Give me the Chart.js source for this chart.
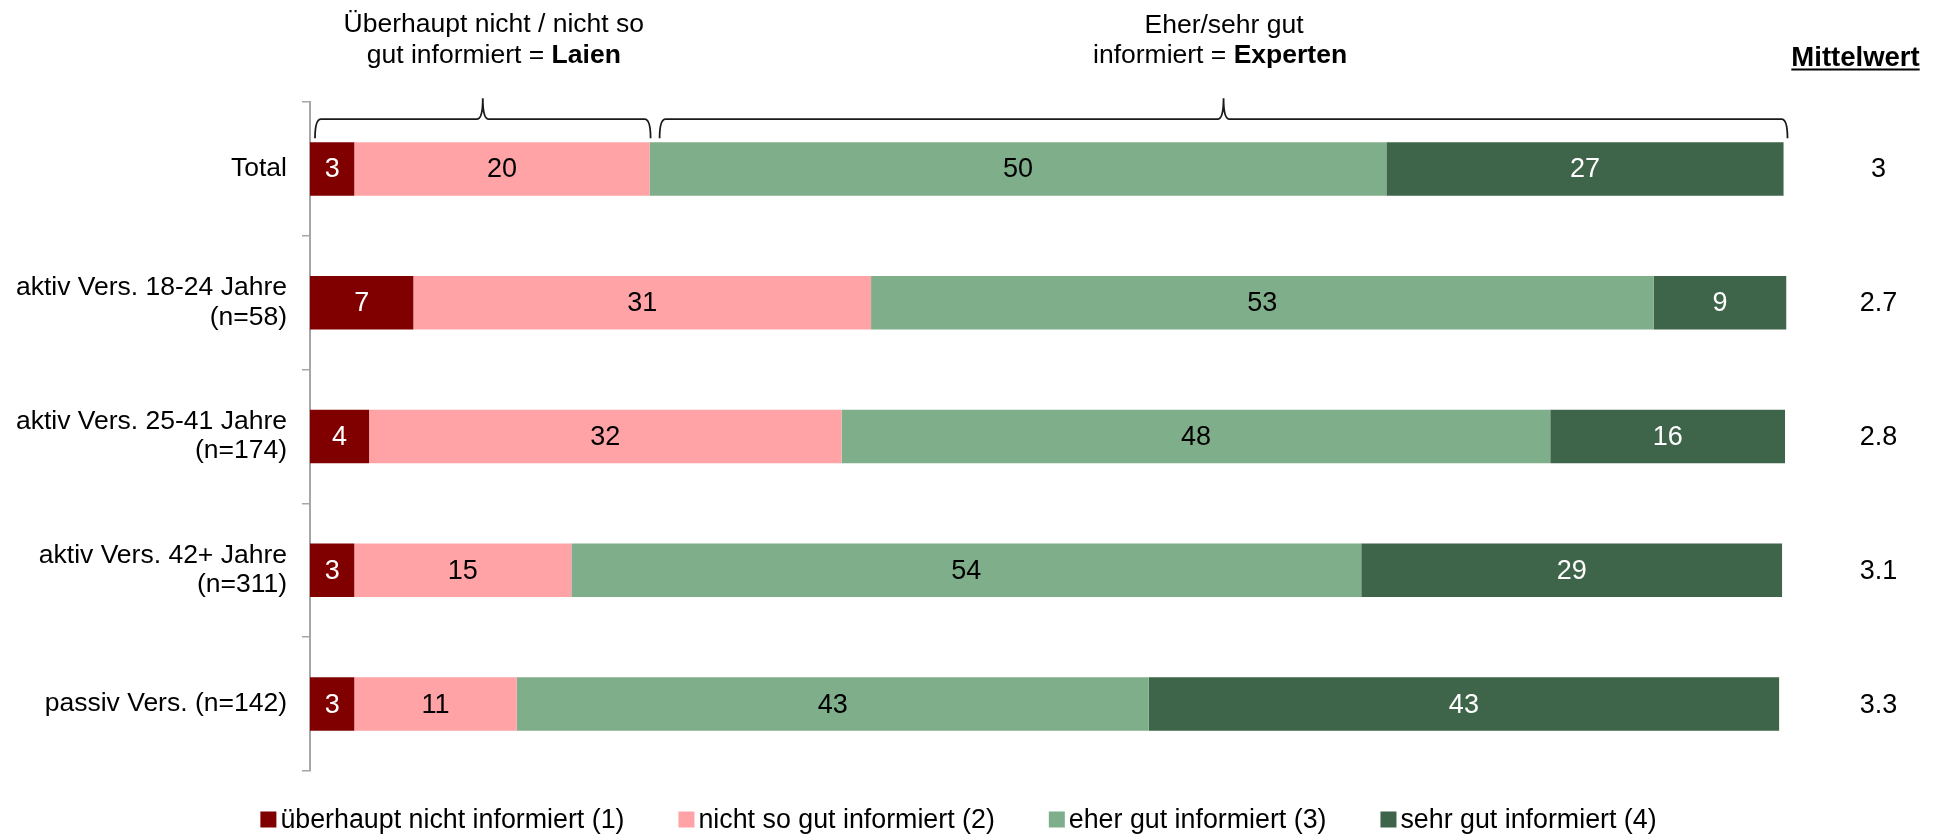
<!DOCTYPE html>
<html>
<head>
<meta charset="utf-8">
<script src="https://cdn.jsdelivr.net/npm/chart.js@4.4.1/dist/chart.umd.min.js"></script>
<style>
  html, body { margin: 0; padding: 0; background: #fff; }
  canvas { display: block; }
</style>
</head>
<body>
<canvas id="chart" width="1937" height="838"></canvas>
<script>
const categories = [
  'Total',
  ['aktiv Vers. 18-24 Jahre', '(n=58)'],
  ['aktiv Vers. 25-41 Jahre', '(n=174)'],
  ['aktiv Vers. 42+ Jahre', '(n=311)'],
  'passiv Vers. (n=142)',
];
const seriesNames = [
  'überhaupt nicht informiert (1)',
  'nicht so gut informiert (2)',
  'eher gut informiert (3)',
  'sehr gut informiert (4)',
];
const ueberhauptNicht = [3, 7, 4, 3, 3];
const nichtSoGut = [20, 31, 32, 14.7, 11];
const eherGut = [49.9, 53, 48, 53.5, 42.8];
const sehrGut = [26.9, 9, 15.9, 28.5, 42.7];
const mittelwerte = [3, 2.7, 2.8, 3.1, 3.3];

const seriesColors = ['#800000', '#FFA3A6', '#7FAE8A', '#3E644A'];
const labelColors = ['#FFFFFF', '#000000', '#000000', '#FFFFFF'];

const FONT = "'Liberation Sans', Arial, sans-serif";
const font = (size, bold) => (bold ? 'bold ' : '') + size + 'px ' + FONT;

const drawBrace = (ctx, x1, x2, yTip, yLine, yEnd) => {
  const mid = (x1 + x2) / 2;
  const r = 6;
  ctx.beginPath();
  ctx.moveTo(x1, yEnd);
  ctx.quadraticCurveTo(x1, yLine, x1 + r, yLine);
  ctx.lineTo(mid - r, yLine);
  ctx.quadraticCurveTo(mid, yLine, mid, yTip);
  ctx.quadraticCurveTo(mid, yLine, mid + r, yLine);
  ctx.lineTo(x2 - r, yLine);
  ctx.quadraticCurveTo(x2, yLine, x2, yEnd);
  ctx.stroke();
};

const drawMixed = (ctx, parts, cx, y, size) => {
  let total = 0;
  parts.forEach((p) => {
    ctx.font = font(size, p.bold);
    p.w = ctx.measureText(p.text).width;
    total += p.w;
  });
  let x = cx - total / 2;
  ctx.textAlign = 'left';
  parts.forEach((p) => {
    ctx.font = font(size, p.bold);
    ctx.fillText(p.text, x, y);
    x += p.w;
  });
};

const overlay = {
  id: 'overlay',
  afterDatasetsDraw(chart) {
    const { ctx } = chart;
    ctx.save();
    ctx.font = font(27);
    ctx.textAlign = 'center';
    ctx.textBaseline = 'middle';
    chart.data.datasets.forEach((ds, di) => {
      const meta = chart.getDatasetMeta(di);
      meta.data.forEach((bar, i) => {
        const { x, base, y } = bar.getProps(['x', 'base', 'y'], true);
        ctx.fillStyle = labelColors[di];
        ctx.fillText(String(Math.round(ds.data[i])), (x + base) / 2, y + 1);
      });
    });
    ctx.restore();
  },
  afterDraw(chart) {
    const { ctx, chartArea } = chart;
    const xs = chart.scales.x;
    const first = chart.getDatasetMeta(0).data[0];
    const barTop = first.y - first.height / 2;

    // braces over the Total bar
    const laienEnd = ueberhauptNicht[0] + nichtSoGut[0];
    const x0 = xs.getPixelForValue(0);
    const xm = xs.getPixelForValue(laienEnd);
    const x100 = xs.getPixelForValue(100);
    ctx.save();
    ctx.strokeStyle = '#1a1a1a';
    ctx.lineWidth = 1.8;
    drawBrace(ctx, x0 + 5, xm + 1, barTop - 44, barTop - 23, barTop - 4);
    drawBrace(ctx, xm + 10, x100 + 1, barTop - 44, barTop - 23, barTop - 4);

    ctx.fillStyle = '#000';
    ctx.textBaseline = 'alphabetic';
    const laienX = (x0 + xm) / 2 + 14;
    const expX = (xm + x100) / 2 + 2;
    ctx.font = font(26.5);
    ctx.textAlign = 'center';
    ctx.fillText('Überhaupt nicht / nicht so', laienX, 32);
    drawMixed(ctx, [{ text: 'gut informiert = ' }, { text: 'Laien', bold: true }], laienX, 63, 26.5);
    ctx.font = font(26.5);
    ctx.textAlign = 'center';
    ctx.fillText('Eher/sehr gut', expX + 4, 33);
    drawMixed(ctx, [{ text: 'informiert = ' }, { text: 'Experten', bold: true }], expX, 63, 26.5);

    // Mittelwert column
    const headX = chartArea.right + 69;
    ctx.font = font(27.5, true);
    ctx.textAlign = 'center';
    ctx.fillText('Mittelwert', headX, 66);
    const hw = ctx.measureText('Mittelwert').width;
    ctx.fillRect(headX - hw / 2, 68.5, hw, 2);

    ctx.font = font(27);
    ctx.textBaseline = 'middle';
    chart.getDatasetMeta(0).data.forEach((bar, i) => {
      ctx.fillText(String(mittelwerte[i]), chartArea.right + 92, bar.y + 1);
    });

    // legend
    const box = 16;
    const boxGap = 4;
    const itemGap = 54;
    ctx.font = font(26.8);
    const widths = seriesNames.map((n) => ctx.measureText(n).width);
    const totalW = widths.reduce((a, w) => a + w + box + boxGap, 0) + itemGap * (seriesNames.length - 1);
    let lx = chart.width / 2 - totalW / 2 - 10;
    const ly = 819.5;
    ctx.textAlign = 'left';
    seriesNames.forEach((name, i) => {
      ctx.fillStyle = seriesColors[i];
      ctx.fillRect(lx, ly - box / 2, box, box);
      ctx.fillStyle = '#000';
      ctx.fillText(name, lx + box + boxGap, ly + 1);
      lx += box + boxGap + widths[i] + itemGap;
    });
    ctx.restore();
  },
};

const seriesData = [ueberhauptNicht, nichtSoGut, eherGut, sehrGut];

new Chart(document.getElementById('chart'), {
  type: 'bar',
  data: {
    labels: categories,
    datasets: seriesData.map((values, i) => ({
      label: seriesNames[i],
      data: values,
      backgroundColor: seriesColors[i],
      borderWidth: 0,
      barPercentage: 0.4,
      categoryPercentage: 1.0,
    })),
  },
  options: {
    indexAxis: 'y',
    responsive: false,
    animation: false,
    layout: { padding: { top: 102, bottom: 67, left: 0, right: 150.5 } },
    scales: {
      x: { display: false, stacked: true, min: 0, max: 100 },
      y: {
        stacked: true,
        grid: {
          offset: true,
          drawOnChartArea: false,
          drawTicks: true,
          tickLength: 8,
          color: '#A6A6A6',
          lineWidth: 1.5,
        },
        border: { display: true, color: '#A6A6A6', width: 2 },
        ticks: {
          color: '#000',
          font: { family: FONT, size: 26.5, lineHeight: 1.1 },
          padding: 15,
          autoSkip: false,
        },
        afterFit: (scale) => {
          scale.width = 310;
        },
      },
    },
    plugins: {
      legend: { display: false },
      tooltip: { enabled: false },
    },
  },
  plugins: [overlay],
});
</script>
</body>
</html>
